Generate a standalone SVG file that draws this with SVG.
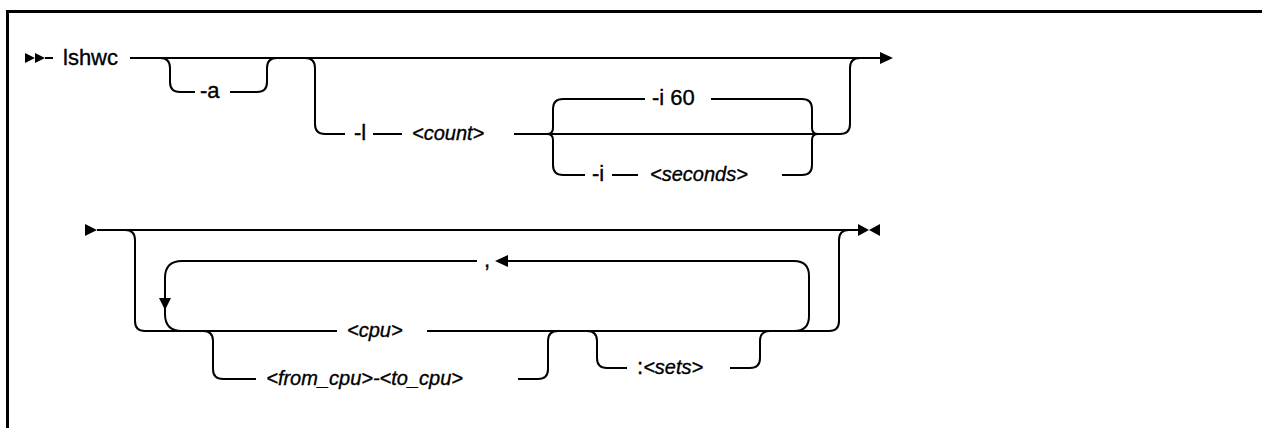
<svg xmlns="http://www.w3.org/2000/svg" width="1262" height="428" viewBox="0 0 1262 428">
<style>
.ln{fill:none;stroke:#000;stroke-width:2}
.box{fill:none;stroke:#000;stroke-width:3}
.ah{fill:#000;stroke:none}
.t{font-family:"Liberation Sans",Arial,sans-serif;font-size:22px;fill:#000;stroke:#000;stroke-width:0.35}
.v{font-style:italic;font-size:20px}
</style>
<rect width="1262" height="428" fill="#fff"/>
<path class="box" d="M7.5,428 V11.5 H1262"/>
<g id="connectors">
  <!-- row 1 -->
  <polygon class="ah" points="25,53 35,58 25,63"/>
  <polygon class="ah" points="35,53 45,58 35,63"/>
  <path class="ln" d="M45,58 H53 M130,58 H880"/>
  <polygon class="ah" points="880,52 893,58 880,64"/>
  <path class="ln" d="M160,58 Q170,58 170,68 V82 Q170,92 180,92 H195 M230,92 H257 Q267,92 267,82 V68 Q267,58 277,58"/>
  <path class="ln" d="M305,58 Q315,58 315,68 V124 Q315,134 325,134 H345 M373,134 H402 M514,134 H840 Q850,134 850,124 V68 Q850,58 860,58"/>
  <path class="ln" d="M547,134 Q553,134 553,128 V109 Q553,99 563,99 H645 M711,99 H802 Q812,99 812,109 V128 Q812,134 818,134"/>
  <path class="ln" d="M547,134 Q553,134 553,140 V165 Q553,175 563,175 H585 M612,175 H638 M782,175 H802 Q812,175 812,165 V140 Q812,134 818,134"/>
  <!-- row 2 -->
  <polygon class="ah" points="85,224 97,230 85,236"/>
  <path class="ln" d="M97,230 H858"/>
  <polygon class="ah" points="858,224 869,230 858,236"/>
  <polygon class="ah" points="880,224 869,230 880,236"/>
  <path class="ln" d="M125,230 Q135,230 135,240 V321 Q135,331 145,331 H337 M427,331 H829 Q839,331 839,321 V240 Q839,230 849,230"/>
  <path class="ln" d="M477,261 H182 Q165,261 165,278 V314 Q165,331 182,331"/>
  <polygon class="ah" points="159,298 171,298 165,310"/>
  <polygon class="ah" points="508,255 495,261 508,267"/>
  <path class="ln" d="M508,261 H794 Q809,261 809,276 V316 Q809,331 794,331"/>
  <path class="ln" d="M203,331 Q213,331 213,341 V369 Q213,379 223,379 H256 M518,379 H538 Q548,379 548,369 V341 Q548,331 558,331"/>
  <path class="ln" d="M587,331 Q597,331 597,341 V358 Q597,368 607,368 H627 M730,368 H750 Q760,368 760,358 V341 Q760,331 770,331"/>
</g>
<g id="n-lshwc"><text class="t" x="63" y="65">lshwc</text></g>
<g id="n-a"><text class="t" x="200" y="98">-a</text></g>
<g id="n-l"><text class="t" x="354" y="140">-l</text></g>
<g id="n-count"><text class="t v" x="412" y="140">&lt;count&gt;</text></g>
<g id="n-i60"><text class="t" x="652" y="105">-i 60</text></g>
<g id="n-i"><text class="t" x="592" y="181">-i</text></g>
<g id="n-seconds"><text class="t v" x="650" y="181">&lt;seconds&gt;</text></g>
<g id="n-comma"><text class="t" x="484" y="267">,</text></g>
<g id="n-cpu"><text class="t v" x="347" y="337">&lt;cpu&gt;</text></g>
<g id="n-range"><text class="t v" x="463" y="385" text-anchor="end">&lt;from_cpu&gt;-&lt;to_cpu&gt;</text></g>
<g id="n-sets"><text class="t" x="637" y="374">:<tspan class="v">&lt;sets&gt;</tspan></text></g>
</svg>
